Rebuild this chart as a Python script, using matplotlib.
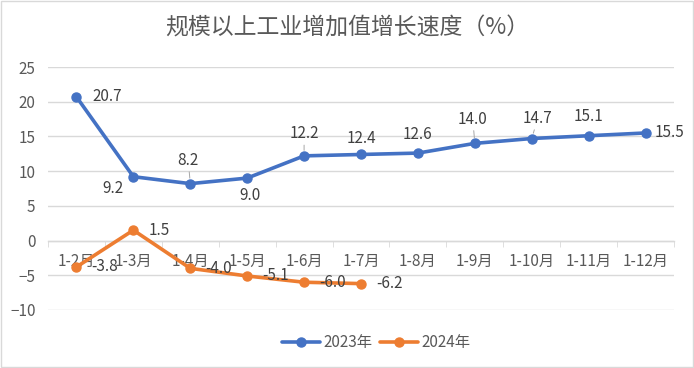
import numpy as np
import matplotlib.pyplot as plt
from matplotlib.patches import Rectangle

plt.rcParams['font.family'] = ['Noto Sans CJK SC', 'DejaVu Sans']

# data
months = ["1-2月", "1-3月", "1-4月", "1-5月", "1-6月", "1-7月",
          "1-8月", "1-9月", "1-10月", "1-11月", "1-12月"]
v2023 = [20.7, 9.2, 8.2, 9.0, 12.2, 12.4, 12.6, 14.0, 14.7, 15.1, 15.5]
v2024 = [-3.8, 1.5, -4.0, -5.1, -6.0, -6.2]

# label offsets in pixels (dx, dy), alignment
off2023 = [(16, 0, 'left'), (-20, -12, 'center'), (-2, 23, 'center'), (3, -17, 'center'),
           (0, 22, 'center'), (0, 16, 'center'), (0, 19, 'center'), (-2, 24, 'center'),
           (6, 20, 'center'), (0, 19, 'center'), (9, 0, 'left')]
leader = [2, 4, 7, 8]

blue = '#4472C4'
orange = '#ED7D31'
grey_txt = '#595959'
lab_txt = '#404040'

fig = plt.figure(figsize=(6.94, 3.68), dpi=100)
ax = fig.add_axes([48/694, 58/368, 626/694, 243/368])
x = np.arange(len(months))

ax.plot(x, v2023, color=blue, lw=2.6, marker='o', ms=6.5, label='2023年',
        solid_capstyle='round', zorder=3)
ax.plot(x[:len(v2024)], v2024, color=orange, lw=2.6, marker='o', ms=6.5, label='2024年',
        solid_capstyle='round', zorder=3)

px = 72 / fig.dpi  # pixel -> points
for i, v in enumerate(v2023):
    dx, dy, ha = off2023[i]
    kw = {}
    if i in leader:
        kw['arrowprops'] = dict(arrowstyle='-', color='#a6a6a6', lw=0.7,
                                shrinkA=0, shrinkB=4)
    ax.annotate(f"{v:.1f}", (x[i], v), xytext=(dx * px, dy * px),
                textcoords='offset points', ha=ha, va='center',
                fontsize=11, color=lab_txt, zorder=4, **kw)
for i, v in enumerate(v2024):
    ax.annotate(f"{v:.1f}", (x[i], v), xytext=(15 * px, 0),
                textcoords='offset points', ha='left', va='center',
                fontsize=11, color=lab_txt, zorder=4)

ax.set_xlim(-0.5, len(months) - 0.5)
ax.set_ylim(-10, 25)
ax.set_yticks(np.arange(-10, 26, 5))
ax.grid(axis='y', color='#d9d9d9', lw=1)
ax.set_axisbelow(True)
for s in ['top', 'right', 'left']:
    ax.spines[s].set_visible(False)
ax.spines['bottom'].set_position(('data', 0))
ax.spines['bottom'].set_color('#d9d9d9')
ax.spines['bottom'].set_linewidth(1)

ax.set_xticks(x)
ax.set_xticklabels(months)
ax.set_xticks(np.arange(-0.5, len(months), 1), minor=True)
ax.tick_params(axis='x', which='major', length=0, pad=9, labelsize=11, labelcolor=grey_txt)
ax.tick_params(axis='x', which='minor', length=4, color='#d9d9d9', direction='out')
ax.tick_params(axis='y', length=0, pad=9, labelsize=11, labelcolor=grey_txt)

fig.text(0.5, 1 - 28/368, "规模以上工业增加值增长速度（%）", ha='center', va='center',
         fontsize=16.5, color=grey_txt)

fig.legend(loc='center', bbox_to_anchor=(376/694, 1 - 343/368), ncol=2, frameon=False,
           fontsize=11, labelcolor=grey_txt, handlelength=2.5, columnspacing=0.5,
           handletextpad=0.2)

fig.patches.append(Rectangle((0.001, 0.002), 0.997, 0.995, transform=fig.transFigure,
                             fill=False, edgecolor='#d9d9d9', lw=1))

fig.savefig('out.png', dpi=100)
